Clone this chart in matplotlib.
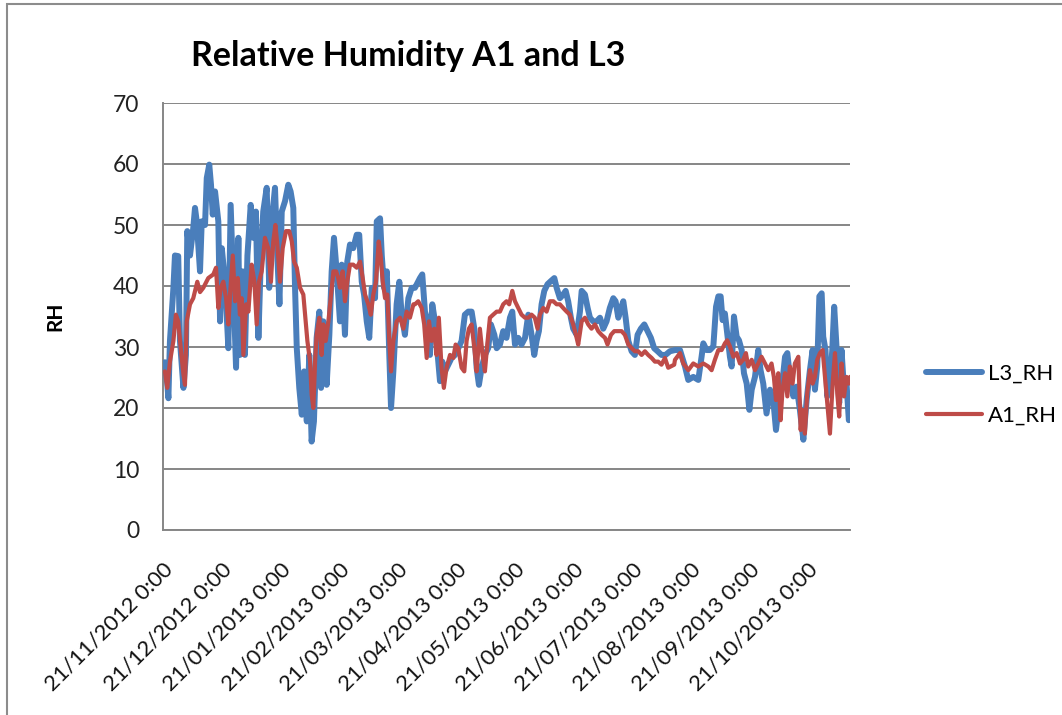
import matplotlib
matplotlib.use("Agg")
import matplotlib.pyplot as plt
from matplotlib.patches import Rectangle

# ---- data (days since 21/11/2012, RH %) ----
l3_days = [1.0, 2.2, 2.8, 3.6, 5.4, 6.2, 7.9, 8.8, 10.6, 11.9, 12.6, 14.0, 15.7, 16.6, 17.5, 19.2, 20.1, 21.8,
           22.7, 24.0, 24.9, 25.8, 27.0, 28.7, 29.6, 30.5, 32.2, 33.9, 35.1, 36.5, 37.9, 39.1, 39.9, 41.3, 42.5,
           43.8, 45.5, 46.8, 48.2, 49.5, 50.8, 52.0, 53.8, 55.1, 56.4, 58.1, 59.3, 60.4, 61.6, 63.3, 65.0, 66.2,
           67.6, 68.5, 69.4, 70.7, 72.0, 73.2, 74.6, 75.9, 77.1, 78.3, 79.7, 81.1, 82.0, 83.2, 84.9, 86.3, 87.5,
           88.7, 90.1, 91.8, 92.7, 94.4, 95.6, 97.0, 98.7, 100.5, 101.8, 103.1, 104.3, 105.7, 107.0, 108.3, 110.0,
           110.9, 112.6, 113.5, 114.7, 116.1, 117.4, 118.3, 119.5, 121.2, 122.6, 123.8, 125.5, 127.3, 129.0,
           130.7, 133.3, 134.5, 135.9, 137.3, 138.5, 139.7, 141.1, 142.5, 143.7, 144.9, 146.3, 148.0, 149.7,
           151.5, 153.2, 154.9, 156.6, 158.4, 160.1, 161.5, 162.7, 163.9, 165.3, 167.0, 168.7, 170.1, 171.9,
           173.1, 174.8, 176.5, 178.2, 180.0, 181.2, 182.6, 184.3, 186.0, 187.8, 189.5, 191.2, 192.6, 193.8,
           195.0, 196.4, 197.8, 199.5, 201.2, 203.0, 204.2, 205.9, 207.6, 208.9, 210.2, 211.6, 212.8, 214.6,
           216.3, 217.2, 218.9, 220.3, 221.5, 223.2, 224.9, 226.7, 228.4, 230.1, 231.8, 233.6, 234.8, 236.2,
           237.6, 238.8, 240.0, 241.4, 243.1, 244.8, 246.2, 247.9, 249.7, 251.4, 253.1, 254.8, 256.6, 258.6,
           260.7, 263.0,
           265.6, 268.2, 270.8, 272.5, 275.1, 277.7, 279.4, 280.3, 282.0, 283.7, 285.5, 286.9, 288.1, 289.3,
           290.3, 291.5, 292.7, 294.1, 295.0, 296.2, 297.6, 298.8, 300.2, 301.4, 302.8, 304.2, 305.4, 307.1,
           308.8, 310.0, 311.4, 313.1, 314.9, 316.6, 318.0, 319.2, 320.9, 322.7, 323.9, 325.2, 327.0, 328.7,
           330.4, 332.2, 333.9, 335.6, 337.0, 338.2, 339.4, 340.5, 341.7, 342.5, 343.7, 344.6, 346.0, 347.2,
           348.2, 349.5, 350.8, 352.0, 353.3, 354.6, 355.8, 356.4]
l3_rh = [27.5, 24.0, 21.6, 31.0, 39.7, 45.0, 44.9, 31.0, 23.3, 28.7, 49.0, 45.0, 49.5, 52.8, 50.6, 42.4, 50.6, 50.0,
         57.7, 59.9, 56.6, 51.7, 55.5, 50.6, 34.2, 46.2, 40.7, 29.8, 53.3, 39.7, 26.6, 47.9, 28.7, 42.4, 28.7,
         45.0, 53.3, 47.9, 52.2, 31.5, 45.0, 52.2, 56.1, 39.7, 50.6, 56.1, 45.0, 37.0, 52.2, 53.9, 56.6, 55.5,
         52.8, 39.7, 29.8, 23.3, 18.9, 26.0, 17.8, 28.7, 14.5, 17.8, 31.5, 35.8, 23.3, 34.2, 23.8, 32.0, 42.4,
         47.9, 42.4, 34.2, 43.5, 32.0, 44.0, 46.8, 46.2, 48.4, 48.4, 40.7, 38.6, 34.2, 31.5, 39.7, 38.0,
         50.6, 51.1, 45.0, 39.7, 42.4, 28.7, 20.0, 26.0, 37.0, 40.7, 35.3, 32.0, 38.0, 39.7,
         39.7, 41.3, 41.9, 35.8, 34.2, 28.7, 37.0, 34.2, 28.7, 24.4, 27.6, 26.0, 27.1, 28.2,
         28.7, 29.8, 31.0, 35.3, 35.8, 35.8, 33.0, 26.6, 23.8, 26.6, 28.7, 29.8, 33.7, 32.0,
         29.8, 30.4, 32.6, 31.5, 34.8, 35.8, 30.4, 31.5, 30.4, 31.5, 35.3, 32.0, 28.7, 31.0,
         32.6, 37.0, 39.2, 40.3, 40.8, 41.3, 39.7, 38.0, 38.6, 39.2, 37.5, 34.8, 33.0, 32.0,
         35.8, 39.2, 38.6, 36.4, 34.8, 34.2, 34.2, 34.8, 33.0, 34.2, 36.4, 38.0, 37.5, 34.8,
         36.4, 37.5, 34.8, 31.0, 29.3, 28.7, 32.0, 33.0, 33.7, 32.6, 31.5, 29.8, 29.3, 28.7,
         28.7, 29.3,
         29.5, 29.5, 26.8, 24.6, 25.1, 24.6, 28.4, 30.6, 29.5, 29.5, 30.1, 36.6, 38.3, 38.3,
         34.4, 35.5, 32.2, 28.4, 26.8, 35.0, 31.7, 31.1, 29.5, 25.7, 24.0, 19.7, 23.0, 25.1,
         29.5, 26.2, 24.0, 19.1, 23.0, 21.3, 16.4, 19.7, 23.0, 28.4, 29.0, 25.1, 21.9, 23.5,
         19.7, 14.8, 21.3, 26.2, 29.5, 23.0, 26.8, 38.3, 38.8, 31.7, 29.5, 21.9, 24.0, 29.5,
         36.6, 29.5, 20.8, 29.5, 23.0, 24.0, 18.0, 19.1]

a1_days = [1.0, 2.2, 3.6, 5.4, 6.7, 7.9, 9.2, 10.6, 11.4, 12.3, 14.0, 15.7, 17.8, 19.2, 20.9, 23.5, 26.1, 27.5,
           28.7, 29.9, 31.3, 32.7, 33.9, 34.8, 36.2, 37.4, 38.8, 39.9, 40.8, 41.7, 43.1, 44.3, 46.0, 47.4, 48.6,
           49.8, 51.2, 52.9, 54.6, 56.0, 57.2, 58.3, 59.3, 60.7, 62.1, 63.8, 65.5, 66.8, 68.0, 69.4, 71.1, 72.8,
           74.0, 74.9, 76.3, 77.1, 78.0, 78.9, 79.7, 81.1, 82.3, 83.2, 84.4, 85.8, 87.0, 88.4, 89.8, 90.9, 91.8,
           93.2, 94.4, 95.6, 97.0, 98.7, 100.5, 102.2, 103.6, 104.8, 106.5, 107.8, 109.1, 110.5, 111.9, 112.9,
           114.0, 115.2, 116.4, 117.4, 118.3, 119.5, 121.2, 123.0, 124.7, 126.4, 128.1, 129.9,
           130.7, 132.4, 134.2, 135.5, 136.8, 138.0, 139.3, 140.7, 141.9, 143.1, 144.5, 145.7, 147.1, 148.9,
           150.6, 151.8, 153.2, 154.9, 156.3, 157.5, 158.7, 160.1, 161.5, 162.7, 164.4, 165.8, 167.0, 168.4,
           169.6, 171.3, 173.1, 174.8, 176.5, 178.2, 179.6, 181.2, 182.6, 184.3, 186.0, 187.8, 189.5, 191.2,
           192.9, 194.3, 195.5, 197.3, 199.0, 200.7, 202.5, 204.2, 205.9, 207.6, 209.4, 211.1, 212.8, 214.2,
           215.4, 217.2, 218.9, 220.6, 222.3, 224.1, 225.8, 227.5, 229.3, 230.6, 232.4, 234.1, 236.2, 237.9,
           239.6, 241.4, 243.1, 244.8, 246.5, 248.3, 250.0, 251.7, 253.5, 255.2, 256.9, 258.6, 260.4, 262.1,
           265.2,
           265.6, 268.2, 269.9, 272.5, 275.1, 277.7, 280.3, 282.9, 284.6, 286.3, 288.1, 289.8, 291.5, 292.7,
           294.1, 295.9, 297.6, 299.3, 301.0, 302.4, 303.6, 305.4, 307.1, 308.8, 310.5, 312.3, 314.0, 315.7,
           316.9, 318.0, 319.2, 320.4, 321.4, 322.7, 323.9, 325.2, 326.6, 327.8, 329.6, 330.8, 331.8, 333.0,
           334.2, 335.6, 337.0, 338.2, 339.4, 340.8, 342.2, 343.4, 344.6, 346.0, 347.4, 348.6, 349.8, 350.8,
           352.0, 353.3, 354.6, 355.8, 356.4]
a1_rh = [26.0, 23.3, 27.6, 31.0, 35.3, 34.2, 29.8, 25.5, 23.8, 34.2, 37.0, 38.0, 40.7, 39.0, 39.7, 41.3, 41.9, 43.0,
         36.4, 39.7, 40.7, 38.0, 33.7, 38.6, 45.0, 37.5, 41.3, 35.3, 38.0, 28.7, 37.0, 35.8, 43.5, 40.7, 33.7,
         40.7, 42.4, 47.9, 46.2, 40.7, 47.3, 50.0, 46.8, 40.7, 46.2, 49.0, 49.0, 47.3, 44.0, 43.0, 39.7, 38.6,
         34.2, 31.0, 27.6, 22.2, 20.0, 27.6, 32.0, 34.8, 28.7, 33.7, 31.0, 34.2, 38.0, 42.4, 42.4, 41.3, 39.7,
         42.4, 37.5, 40.7, 43.5, 43.5, 43.0, 44.0, 41.3, 38.6, 37.0, 35.3, 38.6, 40.7, 47.3, 45.0,
         40.7, 38.0, 38.6, 31.0, 26.0, 31.0, 34.2, 34.8, 33.0, 35.8, 34.8, 37.0,
         37.0, 37.5, 36.4, 33.7, 28.2, 34.2, 31.0, 33.0, 28.7, 34.8, 26.6, 23.3, 26.6, 28.7,
         28.2, 30.4, 29.8, 26.6, 26.0, 31.0, 33.0, 33.7, 29.8, 26.0, 33.0, 28.7, 26.0, 31.0,
         34.8, 35.3, 35.8, 35.8, 37.0, 37.5, 37.0, 39.2, 37.5, 36.4, 35.3, 34.8, 34.8, 35.3,
         34.8, 33.0, 35.3, 36.4, 35.8, 37.5, 37.5, 37.0, 37.0, 36.4, 35.8, 35.3, 33.7, 32.0,
         30.4, 34.2, 34.8, 33.7, 33.0, 33.7, 32.6, 32.0, 31.5, 30.4, 32.0, 32.6, 32.6, 32.6,
         32.0, 30.4, 29.8, 29.3, 29.3, 28.7, 29.3, 28.7, 28.2, 27.6, 27.6, 27.1, 28.2, 26.6,
         27.1,
         27.9, 29.0, 27.3, 26.2, 27.3, 26.8, 27.3, 26.8, 26.2, 27.9, 29.5, 29.5, 30.6, 31.1,
         30.1, 28.4, 29.0, 27.3, 27.9, 29.0, 26.8, 27.9, 26.2, 27.3, 28.4, 27.3, 26.2, 27.3,
         25.1, 21.3, 25.7, 18.0, 23.0, 25.7, 21.9, 26.8, 24.0, 27.3, 28.4, 16.4, 19.7, 15.8,
         22.4, 26.2, 24.0, 25.1, 27.9, 29.0, 29.5, 25.1, 20.8, 15.8, 24.0, 29.0, 22.4, 18.6,
         27.3, 21.9, 25.1, 24.0, 25.1]

tick_labels = ["21/11/2012 0:00", "21/12/2012 0:00", "21/01/2013 0:00", "21/02/2013 0:00",
               "21/03/2013 0:00", "21/04/2013 0:00", "21/05/2013 0:00", "21/06/2013 0:00",
               "21/07/2013 0:00", "21/08/2013 0:00", "21/09/2013 0:00", "21/10/2013 0:00"]
tick_days = [i * 30.4 for i in range(len(tick_labels))]

FONT = "Lato"
plt.rcParams['font.family'] = [FONT, 'DejaVu Sans']

fig = plt.figure(figsize=(10.62, 7.15), dpi=100)
ax = fig.add_axes([163/1062, 1 - 530/715, (850-163)/1062, (530-103)/715])

BLUE = "#4a7ebb"
RED = "#be4b48"
GRID = "#868686"

ax.plot(l3_days, l3_rh, color=BLUE, lw=4.3, solid_joinstyle='round', solid_capstyle='round',
        label="L3_RH", zorder=3)
ax.plot(a1_days, a1_rh, color=RED, lw=3.0, solid_joinstyle='round', solid_capstyle='round',
        label="A1_RH", zorder=4)

ax.set_xlim(0, 356.4)
ax.set_ylim(0, 70)
ax.set_yticks(range(0, 71, 10))
ax.yaxis.grid(True, color=GRID, lw=1.4)
ax.set_axisbelow(True)
for s in ['top', 'right']:
    ax.spines[s].set_visible(False)
for s in ['left', 'bottom']:
    ax.spines[s].set_color(GRID)
    ax.spines[s].set_linewidth(1.4)
ax.tick_params(axis='y', length=0, pad=17, labelsize=16.5, labelcolor='#222222')
ax.set_xticks(tick_days)
ax.set_xticklabels(tick_labels, rotation=45, ha='right', rotation_mode='anchor', fontsize=15.8, color='#111111')
ax.tick_params(axis='x', length=0, pad=21)

ax.set_ylabel("RH", fontsize=15, fontweight='bold', labelpad=34)
fig.text(408/1062, 1 - 56/715, "Relative Humidity A1 and L3", ha='center', va='center',
         fontsize=24.5, fontweight='bold')

leg = ax.legend(loc='center left', bbox_to_anchor=(906/1062, 1 - 395/715), bbox_transform=fig.transFigure,
                frameon=False, fontsize=16, handlelength=2.5, labelspacing=1.0, handletextpad=0.3)

# outer chart frame
fig.patches.append(Rectangle((7/1062, -0.05), 1.2, 1.05 - 4/715, transform=fig.transFigure,
                             fill=False, edgecolor='#8c8c8c', lw=1.5))

fig.savefig("out.png", dpi=100)
